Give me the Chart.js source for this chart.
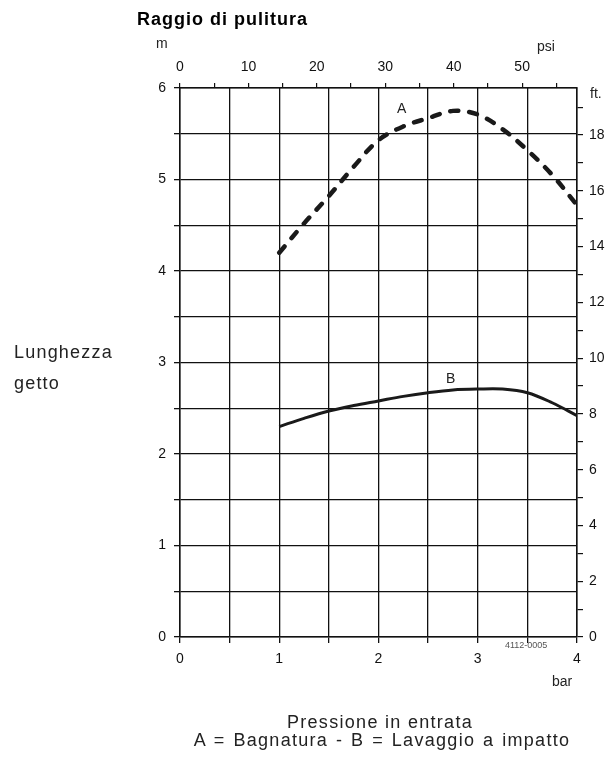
<!DOCTYPE html>
<html>
<head>
<meta charset="utf-8">
<script src="https://cdn.jsdelivr.net/npm/chart.js@4"></script>
<style>
  body { margin: 0; background: #fff; }
  #wrap { position: relative; width: 615px; height: 760px; font-family: "Liberation Sans", Arial, sans-serif; }
  #wrap canvas { position: absolute; left: 0; top: 0; }
  .lbl { position: absolute; line-height: 1; white-space: nowrap; color: #222; }
</style>
</head>
<body>
<div id="wrap">
  <canvas id="JetChart" width="615" height="760"></canvas>
  <div class="lbl" style="left:137px; top:10px; font-size:18px; font-weight:bold; letter-spacing:1px; color:#000;">Raggio di pulitura</div>
  <div class="lbl" style="left:156px; top:36px; font-size:14px;">m</div>
  <div class="lbl" style="left:537px; top:39px; font-size:14px;">psi</div>
  <div class="lbl" style="left:590px; top:86px; font-size:14px;">ft.</div>
  <div class="lbl" style="left:552px; top:674px; font-size:14px;">bar</div>
  <div class="lbl" style="left:505px; top:641px; font-size:9px; color:#555;">4112-0005</div>
  <div class="lbl" style="left:14px; top:343px; font-size:18px; letter-spacing:1.2px;">Lunghezza</div>
  <div class="lbl" style="left:14px; top:374px; font-size:18px; letter-spacing:1.2px;">getto</div>
  <div class="lbl" style="left:0; width:760px; text-align:center; top:713px; font-size:18px; letter-spacing:1.3px;">Pressione in entrata</div>
  <div class="lbl" style="left:0; width:764px; text-align:center; top:731px; font-size:18px; letter-spacing:1.3px; word-spacing:1.5px;">A = Bagnatura - B = Lavaggio a impatto</div>
  <div class="lbl" style="left:397px; top:101px; font-size:14px;">A</div>
  <div class="lbl" style="left:446px; top:371px; font-size:14px;">B</div>
</div>
<script>
// pressure (bar) and jet length (m)
const pressureBar = [1.0, 1.25, 1.5, 1.75, 2.0, 2.25, 2.5, 2.75, 3.0, 3.25, 3.5, 3.75, 4.0];
const curveA = [4.20, 4.52, 4.82, 5.14, 5.43, 5.58, 5.67, 5.75, 5.71, 5.55, 5.32, 5.05, 4.72]; // Bagnatura
const curveB = [2.30, 2.39, 2.47, 2.53, 2.58, 2.63, 2.67, 2.70, 2.71, 2.71, 2.67, 2.56, 2.42]; // Lavaggio a impatto

const PSI_PER_BAR = 14.5038;
const FT_PER_M = 1 / 0.3048;

const ink = '#111';

function toPoints(ys) {
    return pressureBar.map((x, i) => ({ x: x, y: ys[i] }));
}

const ctx = document.getElementById('JetChart').getContext('2d');
new Chart(ctx, {
    type: 'line',
    data: {
        datasets: [{
            label: 'A',
            data: toPoints(curveA),
            borderColor: '#1a1a1a',
            borderWidth: 4.5,
            borderDash: [8, 11],
            borderCapStyle: 'round',
            pointRadius: 0,
            tension: 0.35,
            xAxisID: 'x',
            yAxisID: 'y'
        }, {
            label: 'B',
            data: toPoints(curveB),
            borderColor: '#1a1a1a',
            borderWidth: 3,
            pointRadius: 0,
            tension: 0.35,
            xAxisID: 'x',
            yAxisID: 'y'
        }]
    },
    options: {
        responsive: false,
        animation: false,
        layout: { padding: 0 },
        plugins: {
            legend: { display: false },
            tooltip: { enabled: false }
        },
        scales: {
            x: {
                type: 'linear',
                position: 'bottom',
                min: 0,
                max: 4,
                afterFit: (s) => { s.height = 123; },
                ticks: {
                    stepSize: 0.5,
                    autoSkip: false,
                    maxRotation: 0,
                    padding: 8,
                    color: '#111',
                    font: { family: 'Liberation Sans', size: 14 },
                    callback: (v) => Number.isInteger(v) ? v : ''
                },
                grid: { color: ink, lineWidth: 1.3, tickLength: 6 },
                border: { color: ink, width: 1.5 }
            },
            xPsi: {
                type: 'linear',
                position: 'top',
                min: 0,
                max: 4 * PSI_PER_BAR,
                afterFit: (s) => { s.height = 88; },
                ticks: {
                    stepSize: 5,
                    includeBounds: false,
                    autoSkip: false,
                    maxRotation: 0,
                    padding: 7,
                    color: '#111',
                    font: { family: 'Liberation Sans', size: 14 },
                    callback: (v) => v % 10 === 0 ? v : ''
                },
                grid: { drawOnChartArea: false, color: ink, lineWidth: 1.2, tickLength: 5 },
                border: { color: ink, width: 1.5 }
            },
            y: {
                type: 'linear',
                position: 'left',
                min: 0,
                max: 6,
                afterFit: (s) => { s.width = 180; },
                ticks: {
                    stepSize: 0.5,
                    autoSkip: false,
                    padding: 8,
                    color: '#111',
                    font: { family: 'Liberation Sans', size: 14 },
                    callback: (v) => Number.isInteger(v) ? v : ''
                },
                grid: { color: ink, lineWidth: 1.3, tickLength: 6 },
                border: { color: ink, width: 1.5 }
            },
            yFt: {
                type: 'linear',
                position: 'right',
                min: 0,
                max: 6 * FT_PER_M,
                afterFit: (s) => { s.width = 38; },
                ticks: {
                    stepSize: 1,
                    includeBounds: false,
                    autoSkip: false,
                    padding: 6,
                    color: '#111',
                    font: { family: 'Liberation Sans', size: 14 },
                    callback: (v) => v % 2 === 0 ? v : ''
                },
                grid: { drawOnChartArea: false, color: ink, lineWidth: 1.2, tickLength: 6 },
                border: { color: ink, width: 1.5 }
            }
        }
    }
});
</script>
</body>
</html>
